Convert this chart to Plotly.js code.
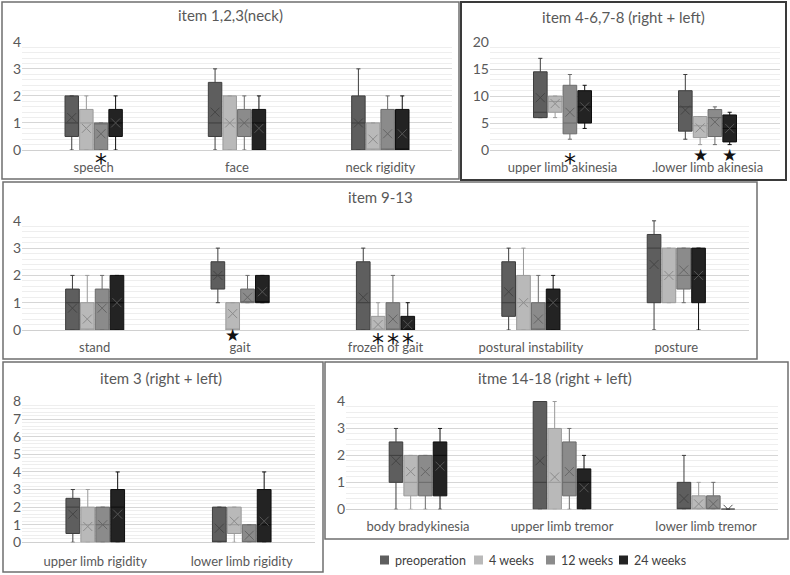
<!DOCTYPE html>
<html>
<head>
<meta charset="utf-8">
<script src="https://cdn.plot.ly/plotly-3.0.1.min.js"></script>
<style>html,body{margin:0;padding:0;background:#fff;}#chart{width:790px;height:575px;}</style>
</head>
<body>
<div id="chart"></div>
<script>
// ---------- DATA ----------
const seriesNames = ['preoperation', '4 weeks', '12 weeks', '24 weeks'];

// Panel 1: item 1,2,3(neck)   [series][category]
const neckCats = ['speech', 'face', 'neck rigidity'];
const neckLo   = [[0, 0, 0], [0, 0, 0], [0, 0, 0], [0, 0, 0]];
const neckQ1   = [[0.5, 0.5, 0], [0, 0, 0], [0, 0.5, 0], [0.5, 0, 0]];
const neckMed  = [[1, 1, 1], [1, 1, 0], [1, 1, 0], [1, 1, 0]];
const neckQ3   = [[2, 2.5, 2], [1.5, 2, 1], [1, 1.5, 1.5], [1.5, 1.5, 1.5]];
const neckHi   = [[2, 3, 3], [2, 2, 1], [1, 2, 2], [2, 2, 2]];
const neckMean = [[1.2, 1.4, 1.0], [0.8, 1.0, 0.4], [0.6, 1.0, 0.6], [1.0, 0.8, 0.6]];

// Panel 2: item 4-6,7-8 (right + left)
const akiCats = ['upper limb akinesia', '.lower limb akinesia'];
const akiLo   = [[6, 2], [6, 1], [2, 1], [4, 1]];
const akiQ1   = [[6, 3.5], [7, 2.3], [3, 2.5], [5, 1.5]];
const akiMed  = [[7, 8], [9, 4.5], [5, 6], [8, 4]];
const akiQ3   = [[14.5, 11], [10, 6.2], [12, 7.5], [11, 6.5]];
const akiHi   = [[17, 14], [10, 6.2], [14, 8], [12, 7]];
const akiMean = [[9.7, 7.4], [8.6, 4.1], [7.0, 5.2], [8.0, 4.0]];

// Panel 3: item 9-13
const gaitCats = ['stand', 'gait', 'frozen of gait', 'postural instability', 'posture'];
const gaitLo   = [[0, 1, 0, 0, 0], [0, 0, 0, 0, 1], [0, 1, 0, 0, 1], [0, 1, 0, 0, 0]];
const gaitQ1   = [[0, 1.5, 0, 0.5, 1], [0, 0, 0, 0, 1], [0, 1, 0, 0, 1.5], [0, 1, 0, 0, 1]];
const gaitMed  = [[1, 2, 1, 1, 3], [0, 0, 0, 1, 2], [1, 1, 0, 0, 2], [1, 1, 0, 1, 2]];
const gaitQ3   = [[1.5, 2.5, 2.5, 2.5, 3.5], [1, 1, 0.5, 2, 3], [1.5, 1.5, 1, 1, 3], [2, 2, 0.5, 1.5, 3]];
const gaitHi   = [[2, 3, 3, 3, 4], [2, 1, 1, 3, 3], [2, 2, 2, 2, 3], [2, 2, 1, 2, 3]];
const gaitMean = [[0.8, 2.0, 1.2, 1.4, 2.4], [0.4, 0.6, 0.2, 1.0, 2.0], [0.8, 1.2, 0.4, 0.4, 2.2], [1.0, 1.4, 0.2, 1.0, 2.0]];

// Panel 4: item 3 (right + left)
const rigCats = ['upper limb rigidity', 'lower limb rigidity'];
const rigLo   = [[0, 0], [0, 0], [0, 0], [0, 0]];
const rigQ1   = [[0.5, 0], [0, 0.5], [0, 0], [0, 0]];
const rigMed  = [[2, 0], [1, 1], [1, 0], [2, 1]];
const rigQ3   = [[2.5, 2], [2, 2], [2, 1], [3, 3]];
const rigHi   = [[3, 2], [3, 2], [2, 1], [4, 4]];
const rigMean = [[1.6, 0.8], [0.9, 1.2], [1.0, 0.4], [1.6, 1.2]];

// Panel 5: itme 14-18 (right + left)
const treCats = ['body bradykinesia', 'upper limb tremor', 'lower limb tremor'];
const treLo   = [[0, 0, 0], [0, 0, 0], [0, 0, 0], [0, 0, 0]];
const treQ1   = [[1, 0, 0], [0.5, 0, 0], [0.5, 0.5, 0], [0.5, 0, 0]];
const treMed  = [[2, 1, 0], [1, 1, 0], [1, 1, 0], [2, 1, 0]];
const treQ3   = [[2.5, 4, 1], [2, 3, 0.5], [2, 2.5, 0.5], [2.5, 1.5, 0]];
const treHi   = [[3, 4, 2], [2, 4, 1], [2, 3, 1], [3, 2, 0]];
const treMean = [[1.8, 1.8, 0.4], [1.4, 1.2, 0.2], [1.4, 1.4, 0.2], [1.6, 0.8, 0]];

// significance marks: [category index, series index, symbol]
const neckMarks = [[0, 2, '*']];
const akiMarks  = [[0, 2, '*'], [1, 1, '★'], [1, 3, '★']];
const gaitMarks = [[1, 1, '★'], [2, 1, '*'], [2, 2, '*'], [2, 3, '*']];

// ---------- STYLE ----------
const W = 790, H = 575;
const fills = ['#5e5e5e', '#b9b9b9', '#8b8b8b', '#232323'];
const lines = ['#3e3e3e', '#9a9a9a', '#6b6b6b', '#0e0e0e'];
const xCol  = ['#454545', '#8c8c8c', '#666666', '#555555'];
const offs = [-0.153, -0.051, 0.051, 0.153];
const boxW = 0.094;
const FONT = 'Lato, "Open Sans", sans-serif';
const txt = '#595959';
const legendX = [380, 474, 546, 619];   // swatch left edges (px)
const legendY = 560;

const panels = [
  {cats: neckCats, lo: neckLo, q1: neckQ1, med: neckMed, q3: neckQ3, hi: neckHi, mean: neckMean, marks: neckMarks,
   title: 'item 1,2,3(neck)', px: [22, 452], py: [41, 150], range: [0, 4.03], dt: 1, minor: 0.2,
   frame: [2, 2, 459, 179], tx: 230, ty: 15, so: 8},
  {cats: akiCats, lo: akiLo, q1: akiQ1, med: akiMed, q3: akiQ3, hi: akiHi, mean: akiMean, marks: akiMarks,
   title: 'item 4-6,7-8 (right + left)', px: [490, 780], py: [41.5, 150], range: [0, 20.12], dt: 5, minor: 1,
   frame: [461, 2, 786, 180], tx: 623, ty: 17, dark: true, so: 8},
  {cats: gaitCats, lo: gaitLo, q1: gaitQ1, med: gaitMed, q3: gaitQ3, hi: gaitHi, mean: gaitMean, marks: gaitMarks,
   title: 'item 9-13', px: [22, 749], py: [220, 330], range: [0, 4.03], dt: 1, minor: 0.2,
   frame: [3, 182, 757, 359], tx: 380, ty: 197, so: 8},
  {cats: rigCats, lo: rigLo, q1: rigQ1, med: rigMed, q3: rigQ3, hi: rigHi, mean: rigMean, marks: [],
   title: 'item 3 (right + left)', px: [22, 315], py: [400.7, 542.3], range: [0, 8.05], dt: 1, minor: 0.2,
   frame: [3, 362, 323, 572], tx: 161, ty: 378, so: 10},
  {cats: treCats, lo: treLo, q1: treQ1, med: treMed, q3: treQ3, hi: treHi, mean: treMean, marks: [],
   title: 'itme 14-18 (right + left)', px: [346, 778], py: [400.7, 509.3], range: [0, 4.03], dt: 1, minor: 0.2,
   frame: [325, 362, 788, 539], tx: 555, ty: 378, so: 8}
];

const traces = [];
const layout = {
  width: W, height: H, margin: {l: 0, r: 0, t: 0, b: 0},
  paper_bgcolor: '#ffffff', plot_bgcolor: 'rgba(0,0,0,0)',
  font: {family: FONT, size: 13, color: txt},
  showlegend: false,
  shapes: [], annotations: []
};

panels.forEach((p, k) => {
  const sfx = k === 0 ? '' : String(k + 1);
  const xa = 'x' + sfx, ya = 'y' + sfx;
  layout['xaxis' + sfx] = {
    domain: [p.px[0] / W, p.px[1] / W], anchor: ya, range: [-0.5, p.cats.length - 0.5],
    tickvals: p.cats.map((c, i) => i), ticktext: p.cats, showgrid: false, zeroline: false,
    showline: false, ticks: '', ticklabelstandoff: p.so,
    tickfont: {family: FONT, size: 13, color: txt}, fixedrange: true
  };
  layout['yaxis' + sfx] = {
    domain: [1 - p.py[1] / H, 1 - p.py[0] / H], anchor: xa, range: p.range, dtick: p.dt, tick0: 0,
    showgrid: true, gridcolor: '#d6d6d6', gridwidth: 1, zeroline: true, zerolinecolor: '#d0d0d0',
    zerolinewidth: 1, showline: false, ticks: '', tickfont: {family: FONT, size: 14, color: txt},
    minor: {dtick: p.minor, showgrid: true, gridcolor: '#eeeeee', gridwidth: 1}, fixedrange: true
  };
  for (let s = 0; s < 4; s++) {
    const xs = p.cats.map((c, i) => i + offs[s]);
    traces.push({
      type: 'box', name: seriesNames[s], showlegend: false,
      xaxis: xa, yaxis: ya, x: xs,
      q1: p.q1[s], median: p.med[s], q3: p.q3[s], lowerfence: p.lo[s], upperfence: p.hi[s],
      width: boxW, whiskerwidth: 0.3, fillcolor: fills[s],
      line: {color: lines[s], width: 1}, boxpoints: false, hoverinfo: 'skip'
    });
    traces.push({
      type: 'scatter', mode: 'markers', xaxis: xa, yaxis: ya, x: xs, y: p.mean[s],
      showlegend: false, hoverinfo: 'skip',
      marker: {symbol: 'x-thin-open', size: 9, line: {color: xCol[s], width: 1}, color: xCol[s]}
    });
  }
  // frame
  layout.shapes.push({type: 'rect', xref: 'paper', yref: 'paper',
    x0: p.frame[0] / W, x1: p.frame[2] / W, y0: 1 - p.frame[3] / H, y1: 1 - p.frame[1] / H,
    line: {color: p.dark ? '#3a3a3a' : '#6f6f6f', width: p.dark ? 2 : 1.5}, fillcolor: 'rgba(0,0,0,0)'});
  // title
  layout.annotations.push({xref: 'paper', yref: 'paper', x: p.tx / W, y: 1 - p.ty / H,
    xanchor: 'center', yanchor: 'middle', showarrow: false, text: p.title,
    font: {family: FONT, size: 15, color: txt}});
  // significance marks
  p.marks.forEach(m => {
    const star = m[2] === '★';
    layout.annotations.push({xref: xa, yref: ya, x: m[0] + offs[m[1]], y: 0,
      xanchor: 'center', yanchor: 'middle', showarrow: false, text: m[2],
      yshift: star ? -5 : -13,
      font: {family: 'DejaVu Sans', size: star ? 17 : 24, color: '#111111'}});
  });
});

// legend (bottom right)
seriesNames.forEach((n, s) => {
  layout.shapes.push({type: 'rect', xref: 'paper', yref: 'paper',
    x0: legendX[s] / W, x1: (legendX[s] + 9) / W, y0: 1 - (legendY + 4.5) / H, y1: 1 - (legendY - 4.5) / H,
    line: {width: 0}, fillcolor: fills[s]});
  layout.annotations.push({xref: 'paper', yref: 'paper', x: (legendX[s] + 13) / W, y: 1 - legendY / H,
    xanchor: 'left', yanchor: 'middle', showarrow: false, text: n,
    font: {family: FONT, size: 12.5, color: '#404040'}});
});

Plotly.newPlot('chart', traces, layout, {staticPlot: true, displayModeBar: false});
</script>
</body>
</html>
